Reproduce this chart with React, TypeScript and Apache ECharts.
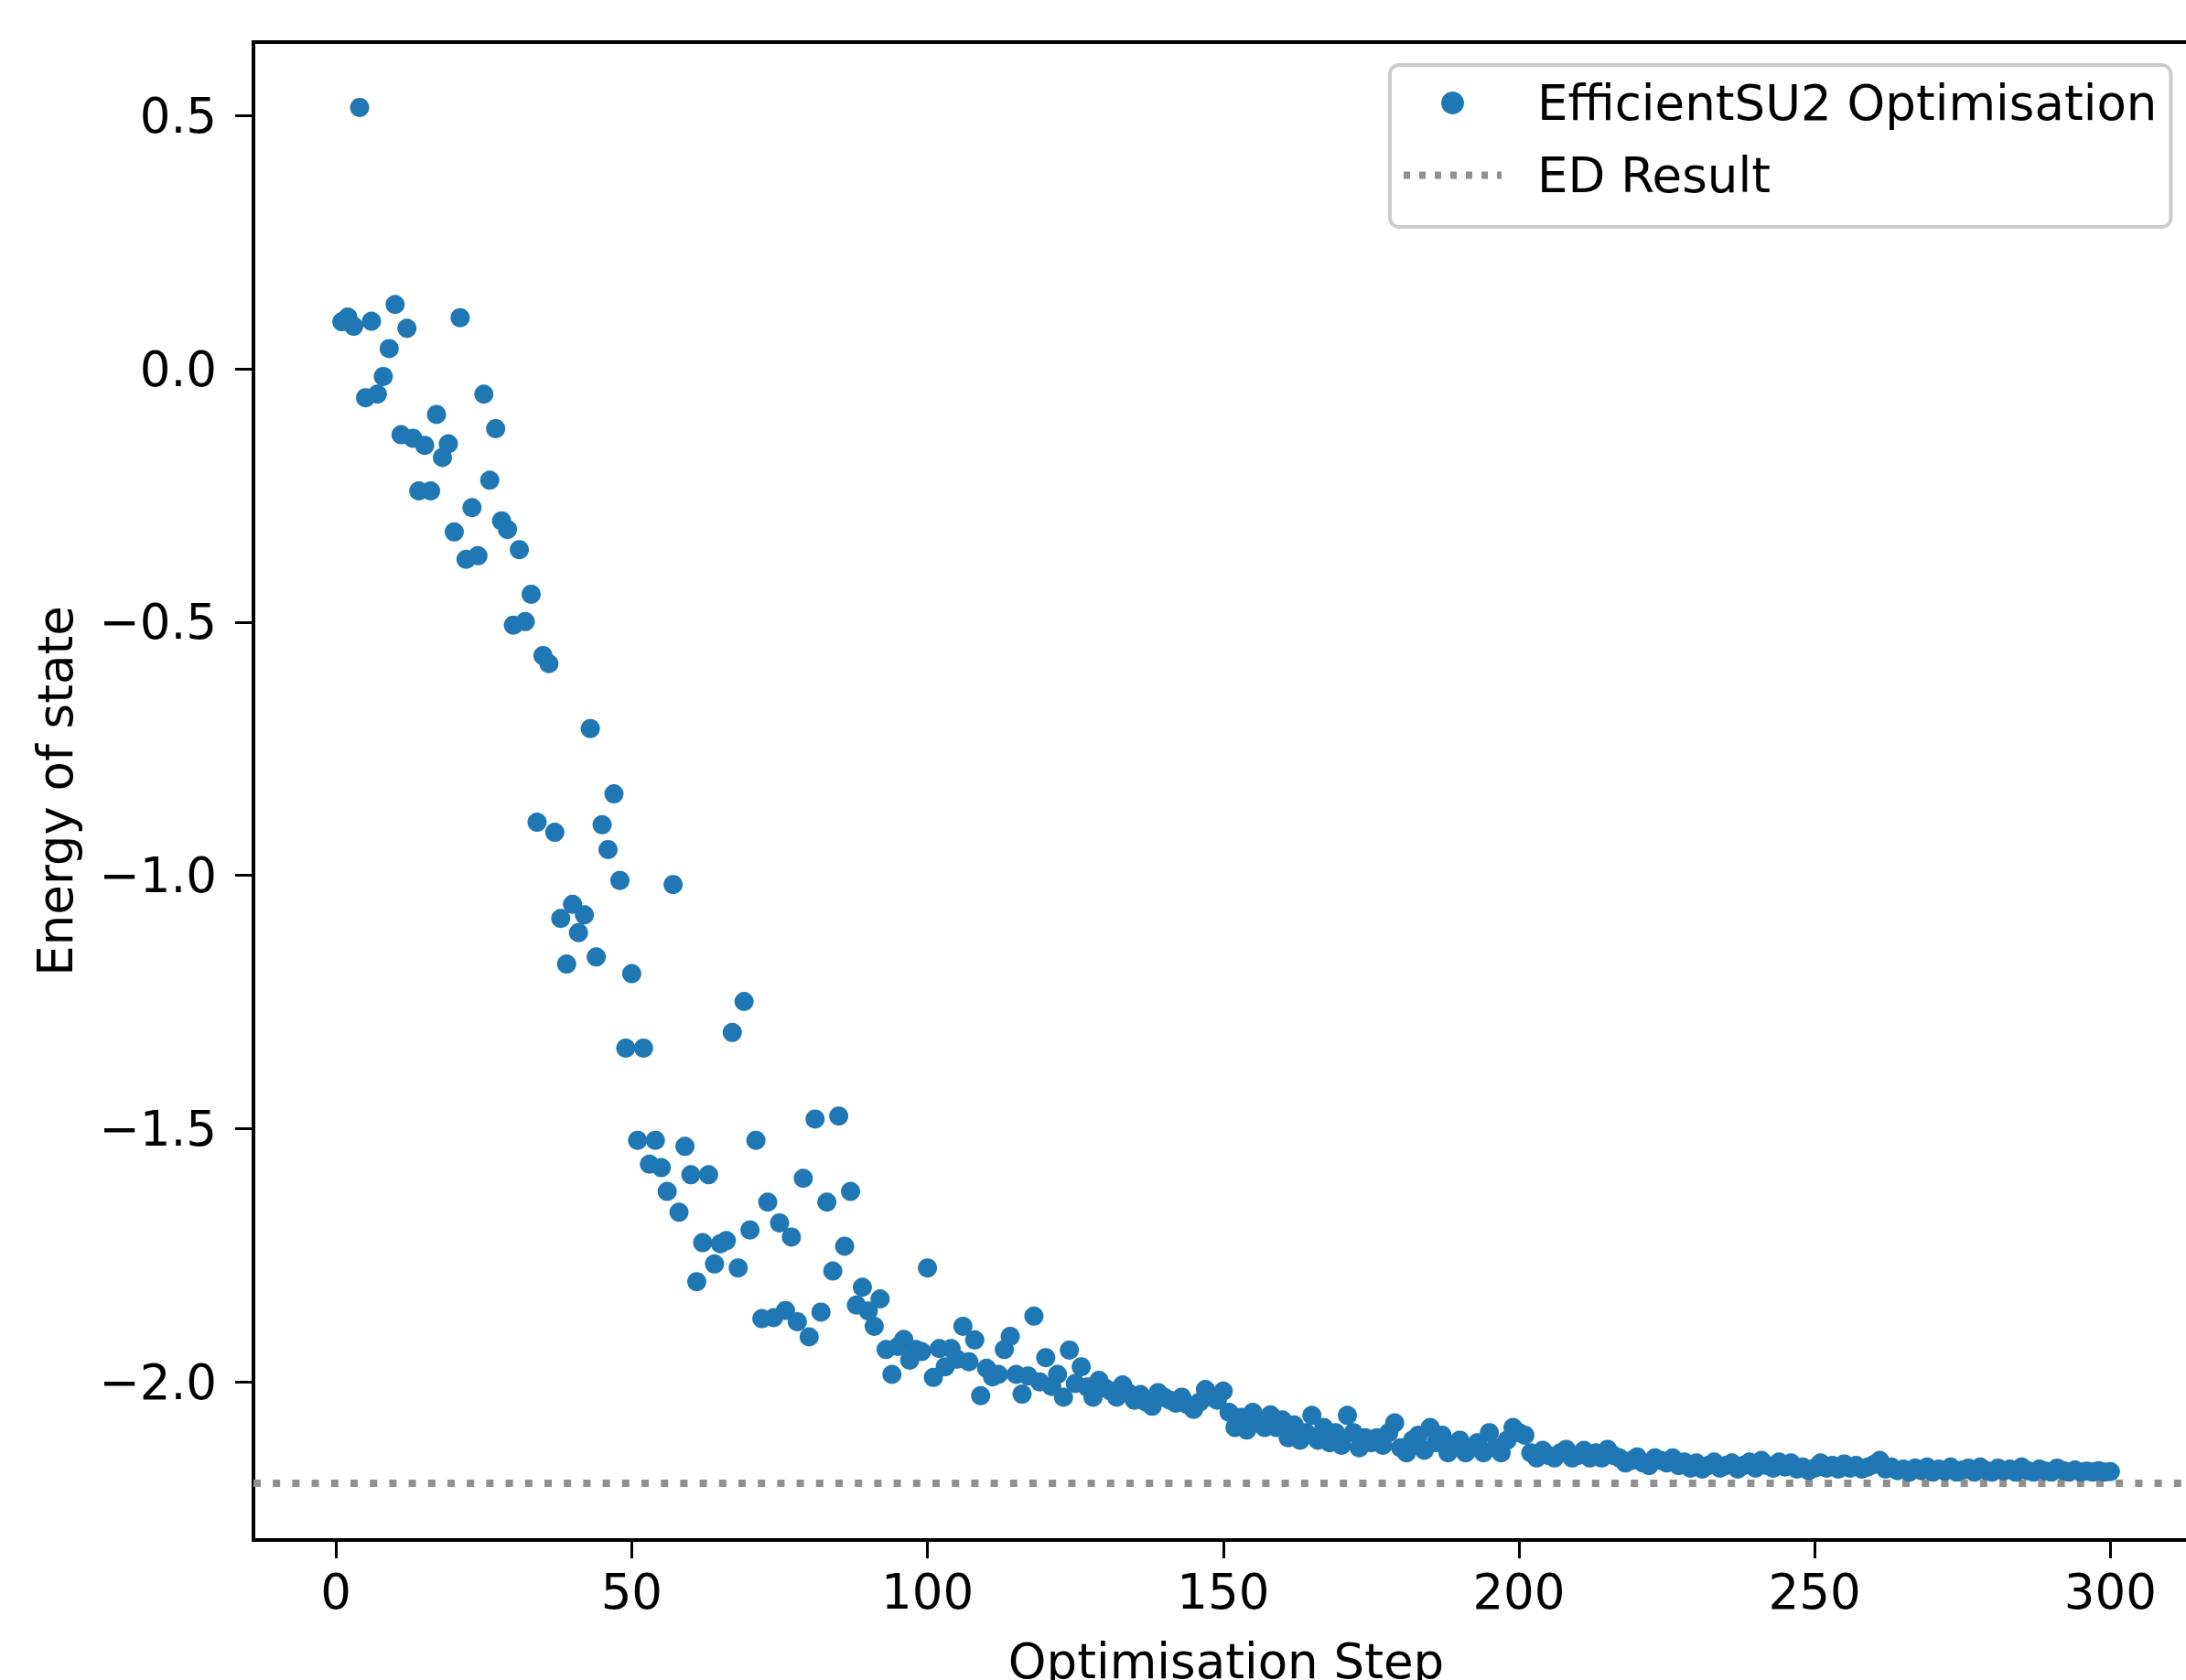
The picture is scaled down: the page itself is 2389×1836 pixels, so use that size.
import React, { useEffect, useRef } from "react";
import * as echarts from "echarts";

// Energy of state for optimisation steps 1..300
const energySteps1to50 = [
  0.093, 0.102, 0.084, 0.516, -0.057, 0.094, -0.05, -0.015, 0.04, 0.127,
  -0.13, 0.08, -0.137, -0.241, -0.151, -0.241, -0.09, -0.175, -0.148, -0.322,
  0.101, -0.376, -0.274, -0.369, -0.05, -0.22, -0.118, -0.3, -0.317, -0.506,
  -0.357, -0.499, -0.445, -0.895, -0.566, -0.582, -0.915, -1.085, -1.175, -1.057,
  -1.113, -1.078, -0.71, -1.161, -0.9, -0.949, -0.839, -1.01, -1.341, -1.194,
];
const energySteps51to100 = [
  -1.523, -1.341, -1.57, -1.523, -1.577, -1.624, -1.018, -1.665, -1.535, -1.591,
  -1.802, -1.725, -1.591, -1.767, -1.727, -1.721, -1.31, -1.775, -1.249, -1.7,
  -1.523, -1.875, -1.645, -1.873, -1.686, -1.859, -1.714, -1.881, -1.598, -1.911,
  -1.481, -1.862, -1.645, -1.781, -1.475, -1.732, -1.624, -1.848, -1.813, -1.86,
  -1.89, -1.836, -1.936, -1.985, -1.93, -1.916, -1.957, -1.936, -1.94, -1.775,
];
const energySteps101to150 = [
  -1.991, -1.934, -1.97, -1.934, -1.955, -1.89, -1.96, -1.917, -2.027, -1.973,
  -1.99, -1.985, -1.936, -1.91, -1.985, -2.024, -1.988, -1.87, -2.0, -1.952,
  -2.009, -1.985, -2.03, -1.937, -2.003, -1.97, -2.01, -2.03, -1.997, -2.012,
  -2.018, -2.03, -2.006, -2.022, -2.036, -2.025, -2.04, -2.048, -2.021, -2.03,
  -2.036, -2.042, -2.03, -2.045, -2.054, -2.04, -2.015, -2.03, -2.036, -2.018,
];
const energySteps151to200 = [
  -2.06, -2.09, -2.07, -2.095, -2.06, -2.08, -2.09, -2.065, -2.09, -2.075,
  -2.11, -2.085, -2.115, -2.1, -2.066, -2.115, -2.09, -2.12, -2.1, -2.125,
  -2.066, -2.1, -2.13, -2.11, -2.12, -2.11, -2.125, -2.1, -2.081, -2.13,
  -2.14, -2.115, -2.105, -2.135, -2.09, -2.12, -2.105, -2.14, -2.125, -2.115,
  -2.14, -2.13, -2.12, -2.14, -2.1, -2.13, -2.14, -2.115, -2.09, -2.1,
];
const energySteps201to250 = [
  -2.105, -2.14, -2.15, -2.135, -2.145, -2.15, -2.14, -2.133, -2.15, -2.145,
  -2.135, -2.15, -2.14, -2.15, -2.133, -2.145, -2.15, -2.16, -2.155, -2.148,
  -2.16, -2.165, -2.15, -2.155, -2.16, -2.15, -2.165, -2.158, -2.17, -2.16,
  -2.172, -2.165, -2.158, -2.17, -2.165, -2.16, -2.172, -2.165, -2.158, -2.17,
  -2.155, -2.165, -2.17, -2.158, -2.168, -2.16, -2.172, -2.168, -2.175, -2.17,
];
const energySteps251to300 = [
  -2.16, -2.17, -2.165, -2.172, -2.162, -2.17, -2.165, -2.172, -2.168, -2.163,
  -2.155, -2.172, -2.168, -2.175, -2.172, -2.178, -2.17, -2.175, -2.168, -2.178,
  -2.172, -2.176, -2.168, -2.178, -2.174, -2.17, -2.178, -2.168, -2.175, -2.178,
  -2.17, -2.176, -2.172, -2.178, -2.168, -2.175, -2.178, -2.172, -2.176, -2.178,
  -2.17, -2.175, -2.178, -2.174, -2.178, -2.176, -2.178, -2.175, -2.178, -2.177,
];

const edResult = -2.2;
const xTicks = [0, 50, 100, 150, 200, 250, 300];
const yTicks = [-2.0, -1.5, -1.0, -0.5, 0.0, 0.5];
const xRange = [-13.95, 314.95];
const yRange = [-2.312, 0.645];

const FONT = "DejaVu Sans";
const ED_COLOR = "#909090";
// dotted legend handle (7 dots across the 107 px handle)
const DOTTED_ICON =
  "path://M0 0h7v8h-7z M17 0h7v8h-7z M34 0h7v8h-7z M51 0h7v8h-7z M68 0h7v8h-7z M85 0h7v8h-7z M102 0h5v8h-5z";

export default function App() {
  const ref = useRef<HTMLDivElement>(null);

  useEffect(() => {
    if (!ref.current) return;
    const chart = echarts.init(ref.current, null, { renderer: "svg" });
    const energies = [
      ...energySteps1to50,
      ...energySteps51to100,
      ...energySteps101to150,
      ...energySteps151to200,
      ...energySteps201to250,
      ...energySteps251to300,
    ];
    const scatterData = energies.map((e, i) => [i + 1, e]);

    chart.setOption({
      animation: false,
      backgroundColor: "#ffffff",
      grid: {
        left: 277,
        top: 46,
        width: 2126,
        height: 1637,
        show: true,
        borderColor: "#000000",
        borderWidth: 4,
        backgroundColor: "#ffffff",
        containLabel: false,
        outerBoundsMode: "none",
      },
      legend: {
        show: true,
        orient: "vertical",
        left: 1519,
        top: 71,
        padding: [15, 15, 30, 15],
        itemWidth: 107,
        itemHeight: 25,
        itemGap: 26,
        backgroundColor: "rgba(255,255,255,0.8)",
        borderColor: "#cccccc",
        borderWidth: 4,
        borderRadius: 10,
        textStyle: {
          fontFamily: FONT,
          fontSize: 53,
          color: "#000000",
          lineHeight: 53,
          padding: [0, 0, 0, 34],
        },
        data: [
          { name: "EfficientSU2 Optimisation", icon: "circle" },
          {
            name: "ED Result",
            icon: DOTTED_ICON,
            itemStyle: { color: ED_COLOR, borderWidth: 0 },
          },
        ],
      },
      xAxis: {
        type: "value",
        min: xRange[0],
        max: xRange[1],
        name: "Optimisation Step",
        nameLocation: "middle",
        nameGap: 106,
        nameTextStyle: { fontFamily: FONT, fontSize: 53, color: "#000000" },
        axisLine: { show: false, onZero: false },
        axisTick: {
          show: true,
          inside: false,
          length: 20,
          lineStyle: { color: "#000000", width: 3 },
          customValues: xTicks,
        },
        axisLabel: {
          show: true,
          margin: 30,
          fontFamily: FONT,
          fontSize: 53,
          color: "#000000",
          customValues: xTicks,
          formatter: (v: number) => String(v),
        },
        splitLine: { show: false },
      },
      yAxis: {
        type: "value",
        min: yRange[0],
        max: yRange[1],
        name: "Energy of state",
        nameLocation: "middle",
        nameRotate: 90,
        nameGap: 190,
        nameTextStyle: { fontFamily: FONT, fontSize: 53, color: "#000000" },
        axisLine: { show: false, onZero: false },
        axisTick: {
          show: true,
          inside: false,
          length: 20,
          lineStyle: { color: "#000000", width: 3 },
          customValues: yTicks,
        },
        axisLabel: {
          show: true,
          margin: 40,
          fontFamily: FONT,
          fontSize: 53,
          color: "#000000",
          customValues: yTicks,
          formatter: (v: number) => v.toFixed(1).replace("-", "\u2212"),
        },
        splitLine: { show: false },
      },
      series: [
        {
          name: "EfficientSU2 Optimisation",
          type: "scatter",
          data: scatterData,
          symbol: "circle",
          symbolSize: 21,
          itemStyle: { color: "#1f77b4", opacity: 1 },
          z: 3,
          silent: true,
        },
        {
          name: "ED Result",
          type: "line",
          data: [
            [xRange[0], edResult],
            [xRange[1], edResult],
          ],
          symbol: "none",
          lineStyle: { color: ED_COLOR, width: 8, type: [8, 13.2], cap: "butt" },
          itemStyle: { color: ED_COLOR },
          z: 2,
          silent: true,
        },
      ],
    });

    return () => chart.dispose();
  }, []);

  return (
    <div
      ref={ref}
      style={{ position: "fixed", left: 0, top: 0, width: 2389, height: 1836 }}
    />
  );
}
